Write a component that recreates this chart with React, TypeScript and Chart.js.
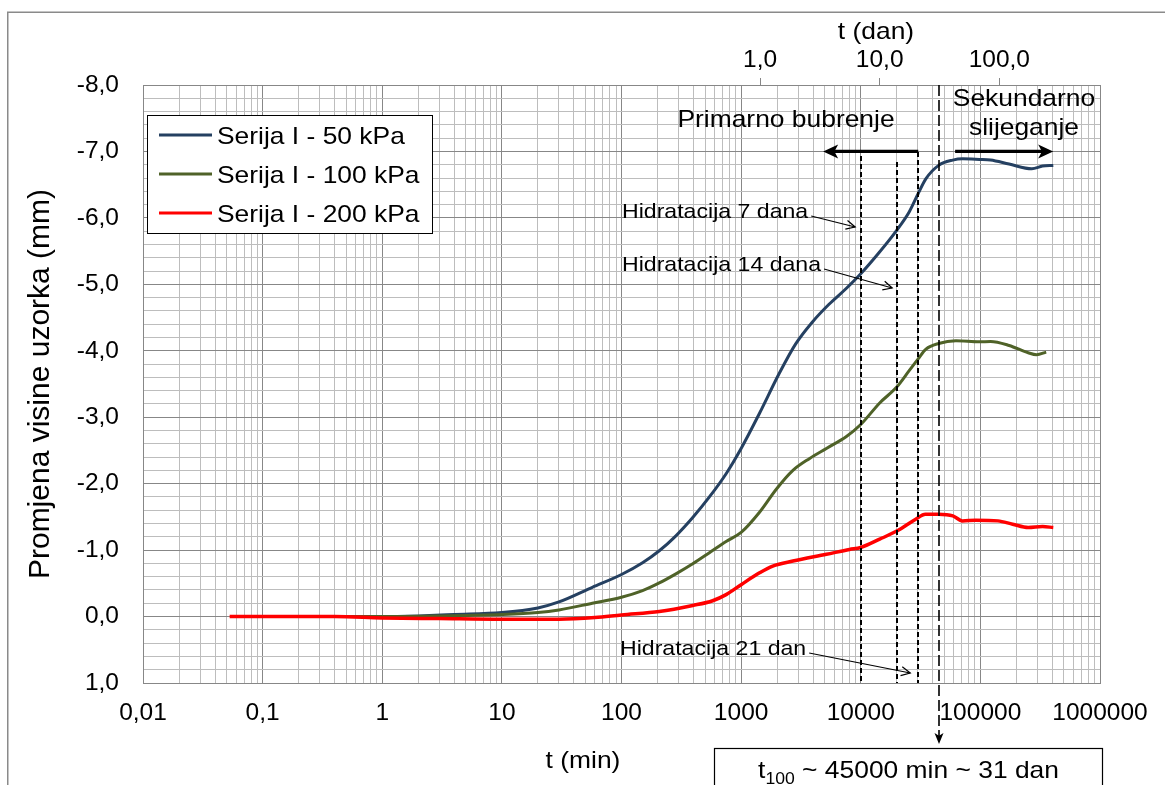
import React, { useEffect, useRef } from 'react';
import { Chart, registerables } from 'chart.js';

Chart.register(...registerables);

const CANVAS_W = 1165;
const CANVAS_H = 785;
const FONT = "'Liberation Sans', Arial, Helvetica, sans-serif";
const MAJOR_GRID = '#878787';
const MINOR_GRID = '#bdbdbd';
const STRETCH = 1.1;

// ---------- data ----------
const seriesLabels = ['Serija I - 50 kPa', 'Serija I - 100 kPa', 'Serija I - 200 kPa'];
const seriesColors = ['#254061', '#4F6228', '#FF0000'];
const seriesWidths = [3, 3, 3.5];

// time in minutes, height change in mm
const time50 = [0.055, 0.4, 1, 2, 4, 10, 20, 30, 57, 100, 150, 207, 285, 394, 543, 749, 1000, 1425, 2070, 2850, 3930, 5430, 7480, 10000, 14250, 19900, 25400, 30100, 35100, 44800, 58700, 71000, 98000, 121600, 173800, 269000, 331000, 407000];
const height50 = [0, 0, 0, -0.01, -0.03, -0.06, -0.13, -0.22, -0.44, -0.633, -0.81, -0.99, -1.215, -1.49, -1.8, -2.15, -2.53, -3.06, -3.65, -4.1, -4.43, -4.7, -4.93, -5.16, -5.48, -5.81, -6.09, -6.36, -6.59, -6.79, -6.87, -6.89, -6.88, -6.87, -6.81, -6.74, -6.78, -6.79];

const time100 = [0.055, 0.4, 1, 3, 10, 20, 30, 57, 100, 150, 207, 285, 394, 543, 749, 1000, 1425, 1975, 2710, 3740, 5160, 7590, 10000, 14400, 19900, 25400, 30100, 35100, 44800, 62500, 98000, 121600, 173800, 251000, 295000, 355000];
const height100 = [0, 0, 0, -0.01, -0.03, -0.06, -0.1, -0.2, -0.29, -0.39, -0.506, -0.643, -0.795, -0.962, -1.13, -1.266, -1.57, -1.92, -2.2, -2.38, -2.53, -2.71, -2.89, -3.215, -3.45, -3.7, -3.875, -4.025, -4.11, -4.15, -4.135, -4.14, -4.08, -3.97, -3.94, -3.98];

const time200 = [0.053, 0.4, 1, 3, 10, 30, 60, 100, 207, 394, 578, 749, 1000, 1425, 1838, 2710, 5160, 8060, 10000, 14400, 20200, 28800, 34700, 44700, 58900, 70800, 91200, 140000, 186000, 251000, 331000, 407000];
const height200 = [0, 0, 0.02, 0.03, 0.04, 0.04, 0.015, -0.025, -0.076, -0.167, -0.238, -0.33, -0.48, -0.658, -0.76, -0.835, -0.937, -1.01, -1.04, -1.165, -1.29, -1.465, -1.54, -1.54, -1.515, -1.44, -1.45, -1.44, -1.39, -1.34, -1.355, -1.34];

// axes
const xMinMinutes = 0.01;
const xMaxMinutes = 1000000;
const yMin = -8;
const yMax = 1;
const yMinorStep = 0.2;
const MIN_PER_DAY = 1440;
const dayTickValues = [1, 10, 100];

// annotations
const hydrationDays = [7, 14, 21];
const hydrationLabels = ['Hidratacija 7 dana', 'Hidratacija 14 dana', 'Hidratacija 21 dan'];
const hydrationLineTop = [-6.93, -6.84, -6.99];
const t100Minutes = 45000;
const phaseLabels = ['Primarno bubrenje', 'Sekundarno', 'slijeganje'];
const phaseArrowFrom = [30240, 61500];
const phaseArrowTo = [4850, 406000];
const phaseArrowLevel = -7.0;

// ---------- layout (pixels) ----------
const LAYOUT = {
  frameX: 7.75,
  frameY: 12.25,
  plotLeft: 143,
  plotRight: 1100,
  plotTop: 85,
  plotBottom: 683,
  legend: { x: 147.5, y: 115.5, w: 285, h: 118, rowY: [135, 174, 213], lineX0: 159, lineX1: 212, textX: 217, font: 24 },
  phaseText: [
    { x: 786, y: 127 },
    { x: 1024, y: 106 },
    { x: 1024, y: 135 },
  ],
  hydText: [
    { x: 622, y: 218, endDx: -6, endDy: 9 },
    { x: 622, y: 271, endDx: -5, endDy: 17 },
    { x: 620, y: 655, endDx: -8, endDy: 18 },
  ],
  t100ArrowTip: 744,
  box: { x: 714.5, y: 748.5, w: 388, textY: 778 },
  xTitle: { x: 583, y: 768, text: 't (min)' },
  x2Title: { x: 876, y: 39, text: 't (dan)' },
};

const isDecade = (v: number) => Math.abs(Math.log10(v) - Math.round(Math.log10(v))) < 1e-9;
const fmtDecade = (v: number) => {
  const e = Math.round(Math.log10(v));
  return e >= 0 ? String(Math.pow(10, e)) : '0,' + '0'.repeat(-e - 1) + '1';
};
const fmtComma = (v: number) => v.toFixed(1).replace('.', ',');

function buildLogTicks(min: number, max: number) {
  const out: { value: number }[] = [];
  const e0 = Math.round(Math.log10(min));
  const e1 = Math.round(Math.log10(max));
  for (let e = e0; e < e1; e++) {
    for (let m = 1; m <= 9; m++) out.push({ value: Number((m * Math.pow(10, e)).toPrecision(6)) });
  }
  out.push({ value: max });
  return out;
}
function buildLinearTicks(min: number, max: number, step: number) {
  const out: { value: number }[] = [];
  const n = Math.round((max - min) / step);
  for (let i = 0; i <= n; i++) out.push({ value: Math.round((min + i * step) * 1000) / 1000 });
  return out;
}

function textW(ctx: CanvasRenderingContext2D, text: string, size: number) {
  ctx.save();
  ctx.font = `${size}px ${FONT}`;
  const w = ctx.measureText(text).width * STRETCH;
  ctx.restore();
  return w;
}
function drawText(ctx: CanvasRenderingContext2D, text: string, x: number, y: number, size: number, align: string, baseline: CanvasTextBaseline = 'alphabetic') {
  ctx.save();
  ctx.font = `${size}px ${FONT}`;
  ctx.textBaseline = baseline;
  ctx.textAlign = 'left';
  ctx.fillStyle = '#000';
  const w = ctx.measureText(text).width * STRETCH;
  const x0 = align === 'left' ? x : align === 'center' ? x - w / 2 : x - w;
  ctx.translate(x0, y);
  ctx.scale(STRETCH, 1);
  ctx.fillText(text, 0, 0);
  ctx.restore();
  return w;
}
function filledHead(ctx: CanvasRenderingContext2D, tx: number, ty: number, ux: number, uy: number, len: number, half: number) {
  const bx = tx - ux * len, by = ty - uy * len;
  const nx = -uy, ny = ux;
  const notch = len * 0.25;
  ctx.beginPath();
  ctx.moveTo(tx, ty);
  ctx.lineTo(bx + nx * half, by + ny * half);
  ctx.lineTo(tx - ux * (len - notch), ty - uy * (len - notch));
  ctx.lineTo(bx - nx * half, by - ny * half);
  ctx.closePath();
  ctx.fill();
}
function openHead(ctx: CanvasRenderingContext2D, tx: number, ty: number, ux: number, uy: number, len: number, half: number) {
  const bx = tx - ux * len, by = ty - uy * len;
  const nx = -uy, ny = ux;
  ctx.beginPath();
  ctx.moveTo(bx + nx * half, by + ny * half);
  ctx.lineTo(tx, ty);
  ctx.lineTo(bx - nx * half, by - ny * half);
  ctx.stroke();
}

const overlayPlugin = {
  id: 'overlay',
  beforeDraw(chart: any) {
    const { ctx, width, height } = chart;
    ctx.save();
    ctx.fillStyle = '#ffffff';
    ctx.fillRect(0, 0, width, height);
    ctx.strokeStyle = '#8a8a8a';
    ctx.lineWidth = 1.5;
    ctx.beginPath();
    ctx.moveTo(LAYOUT.frameX, height + 4);
    ctx.lineTo(LAYOUT.frameX, LAYOUT.frameY);
    ctx.lineTo(width + 4, LAYOUT.frameY);
    ctx.stroke();
    ctx.restore();
  },
  afterDatasetsDraw(chart: any) {
    const { ctx } = chart;
    const x = chart.scales.x;
    const y = chart.scales.y;
    ctx.save();
    // hydration dashed lines
    ctx.strokeStyle = '#000';
    ctx.lineWidth = 2;
    ctx.setLineDash([5, 3]);
    hydrationDays.forEach((d, i) => {
      const px = Math.round(x.getPixelForValue(d * MIN_PER_DAY));
      ctx.beginPath();
      ctx.moveTo(px, y.getPixelForValue(hydrationLineTop[i]));
      ctx.lineTo(px, y.getPixelForValue(yMax));
      ctx.stroke();
    });
    ctx.setLineDash([]);

    // phase arrows
    ctx.fillStyle = '#000';
    ctx.lineWidth = 3.2;
    const py = y.getPixelForValue(phaseArrowLevel);
    phaseArrowFrom.forEach((f, i) => {
      const x0 = x.getPixelForValue(f);
      const x1 = x.getPixelForValue(phaseArrowTo[i]);
      const ux = x1 > x0 ? 1 : -1;
      ctx.beginPath();
      ctx.moveTo(x0, py);
      ctx.lineTo(x1 - ux * 9, py);
      ctx.stroke();
      filledHead(ctx, x1, py, ux, 0, 15, 7);
    });

    // phase labels
    phaseLabels.forEach((t, i) => drawText(ctx, t, LAYOUT.phaseText[i].x, LAYOUT.phaseText[i].y, 24, 'center'));

    // hydration labels + pointer arrows
    ctx.lineWidth = 1.2;
    ctx.strokeStyle = '#000';
    hydrationLabels.forEach((t, i) => {
      const L = LAYOUT.hydText[i];
      const w = drawText(ctx, t, L.x, L.y, 21, 'left');
      const sx = L.x + w + 3;
      const sy = L.y - 2;
      const ex = x.getPixelForValue(hydrationDays[i] * MIN_PER_DAY) + L.endDx;
      const ey = L.y + L.endDy;
      ctx.beginPath();
      ctx.moveTo(sx, sy);
      ctx.lineTo(ex, ey);
      ctx.stroke();
      const len = Math.hypot(ex - sx, ey - sy);
      openHead(ctx, ex, ey, (ex - sx) / len, (ey - sy) / len, 9, 4.5);
    });
    ctx.restore();
  },
  afterDraw(chart: any) {
    const { ctx } = chart;
    const x = chart.scales.x;
    const area = chart.chartArea;
    ctx.save();
    // t100 line with arrow
    const tx = Math.round(x.getPixelForValue(t100Minutes));
    ctx.strokeStyle = '#000';
    ctx.fillStyle = '#000';
    ctx.lineWidth = 1.6;
    ctx.setLineDash([11, 4]);
    ctx.beginPath();
    ctx.moveTo(tx, area.top);
    ctx.lineTo(tx, LAYOUT.t100ArrowTip - 8);
    ctx.stroke();
    ctx.setLineDash([]);
    filledHead(ctx, tx, LAYOUT.t100ArrowTip, 0, 1, 11, 4.5);

    // result box
    const B = LAYOUT.box;
    ctx.fillStyle = '#fff';
    ctx.fillRect(B.x, B.y, B.w, 60);
    ctx.strokeStyle = '#000';
    ctx.lineWidth = 1.2;
    ctx.strokeRect(B.x, B.y, B.w, 60);
    const days = Math.round(t100Minutes / MIN_PER_DAY);
    const p1 = 't';
    const p2 = '100';
    const p3 = ` ~ ${t100Minutes} min ~ ${days} dan`;
    const w1 = textW(ctx, p1, 24);
    const w2 = textW(ctx, p2, 16);
    const w3 = textW(ctx, p3, 24);
    const cx = B.x + B.w / 2 - (w1 + w2 + w3) / 2;
    drawText(ctx, p1, cx, B.textY, 24, 'left');
    drawText(ctx, p2, cx + w1, B.textY + 6, 16, 'left');
    drawText(ctx, p3, cx + w1 + w2, B.textY, 24, 'left');

    // axis titles
    drawText(ctx, LAYOUT.xTitle.text, LAYOUT.xTitle.x, LAYOUT.xTitle.y, 24, 'center');
    drawText(ctx, LAYOUT.x2Title.text, LAYOUT.x2Title.x, LAYOUT.x2Title.y, 24, 'center');

    // legend
    const G = LAYOUT.legend;
    ctx.fillStyle = '#fff';
    ctx.fillRect(G.x, G.y, G.w, G.h);
    ctx.strokeStyle = '#000';
    ctx.lineWidth = 1;
    ctx.strokeRect(G.x, G.y, G.w, G.h);
    chart.data.datasets.forEach((ds: any, i: number) => {
      const ry = G.rowY[i];
      ctx.strokeStyle = ds.borderColor;
      ctx.lineWidth = 3.2;
      ctx.beginPath();
      ctx.moveTo(G.lineX0, ry);
      ctx.lineTo(G.lineX1, ry);
      ctx.stroke();
      drawText(ctx, ds.label, G.textX, ry + 8.5, G.font, 'left');
    });
    ctx.restore();
  },
};

export default function App() {
  const canvasRef = useRef<HTMLCanvasElement | null>(null);

  useEffect(() => {
    const canvas = canvasRef.current;
    if (!canvas) return;
    const times = [time50, time100, time200];
    const heights = [height50, height100, height200];
    const datasets = seriesLabels.map((label, i) => ({
      label,
      data: times[i].map((t, j) => ({ x: t, y: heights[i][j] })),
      borderColor: seriesColors[i],
      backgroundColor: seriesColors[i],
      borderWidth: seriesWidths[i],
      pointRadius: 0,
      fill: false,
      cubicInterpolationMode: 'monotone' as const,
      order: 3 - i,
    }));

    const tickFont = { family: FONT, size: 24.5 };

    const chart = new Chart(canvas, {
      type: 'line',
      data: { datasets },
      options: {
        animation: false,
        responsive: false,
        devicePixelRatio: 1,
        layout: { padding: { left: 0, top: 0, right: CANVAS_W - LAYOUT.plotRight, bottom: 0 } },
        plugins: { legend: { display: false }, tooltip: { enabled: false }, title: { display: false } },
        elements: { point: { radius: 0 } },
        scales: {
          x: {
            type: 'logarithmic',
            position: 'bottom',
            min: xMinMinutes,
            max: xMaxMinutes,
            afterBuildTicks: (s: any) => {
              s.ticks = buildLogTicks(xMinMinutes, xMaxMinutes);
            },
            afterFit: (s: any) => {
              s.height = CANVAS_H - LAYOUT.plotBottom;
            },
            ticks: {
              autoSkip: false,
              maxRotation: 0,
              minRotation: 0,
              padding: 16,
              color: '#000',
              font: tickFont,
              callback: (v: any) => (isDecade(Number(v)) ? fmtDecade(Number(v)) : ''),
            },
            grid: {
              drawTicks: false,
              lineWidth: 1,
              color: (c: any) => (c.tick && isDecade(c.tick.value) ? MAJOR_GRID : MINOR_GRID),
            },
            border: { display: true, color: MAJOR_GRID, width: 1 },
          },
          x2: {
            type: 'logarithmic',
            position: 'top',
            min: xMinMinutes / MIN_PER_DAY,
            max: xMaxMinutes / MIN_PER_DAY,
            afterBuildTicks: (s: any) => {
              s.ticks = dayTickValues.map((v) => ({ value: v }));
            },
            afterFit: (s: any) => {
              s.height = LAYOUT.plotTop;
            },
            ticks: {
              autoSkip: false,
              maxRotation: 0,
              minRotation: 0,
              padding: 3,
              color: '#000',
              font: tickFont,
              callback: (v: any) => fmtComma(Number(v)),
            },
            grid: { drawOnChartArea: false, drawTicks: true, tickLength: 7, color: MAJOR_GRID, lineWidth: 1 },
            border: { display: false },
          },
          y: {
            type: 'linear',
            position: 'left',
            min: yMin,
            max: yMax,
            reverse: true,
            afterBuildTicks: (s: any) => {
              s.ticks = buildLinearTicks(yMin, yMax, yMinorStep);
            },
            afterFit: (s: any) => {
              s.width = LAYOUT.plotLeft;
            },
            ticks: {
              autoSkip: false,
              padding: 24,
              color: '#000',
              font: tickFont,
              callback: (v: any) => (Number.isInteger(Number(v)) ? fmtComma(Number(v)) : ''),
            },
            grid: {
              drawTicks: false,
              lineWidth: 1,
              color: (c: any) => (c.tick && Number.isInteger(c.tick.value) ? MAJOR_GRID : MINOR_GRID),
            },
            border: { display: true, color: MAJOR_GRID, width: 1 },
            title: {
              display: true,
              text: 'Promjena visine uzorka (mm)',
              color: '#000',
              font: { family: FONT, size: 30 },
              padding: { top: 23, bottom: 0 },
            },
          },
        },
      } as any,
      plugins: [overlayPlugin as any],
    });
    return () => chart.destroy();
  }, []);

  return (
    <div style={{ position: 'fixed', left: 0, top: 0, width: CANVAS_W, height: CANVAS_H, background: '#fff' }}>
      <canvas ref={canvasRef} width={CANVAS_W} height={CANVAS_H} style={{ display: 'block' }} />
    </div>
  );
}
